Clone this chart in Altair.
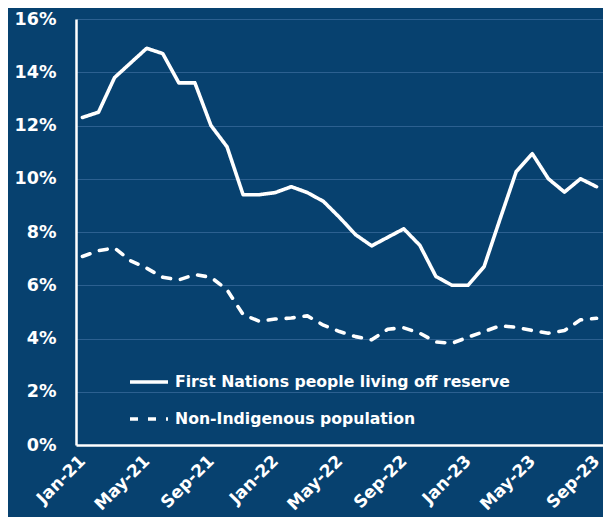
import altair as alt
import pandas as pd

months = ["Jan-21","Feb-21","Mar-21","Apr-21","May-21","Jun-21","Jul-21","Aug-21","Sep-21","Oct-21","Nov-21","Dec-21",
          "Jan-22","Feb-22","Mar-22","Apr-22","May-22","Jun-22","Jul-22","Aug-22","Sep-22","Oct-22","Nov-22","Dec-22",
          "Jan-23","Feb-23","Mar-23","Apr-23","May-23","Jun-23","Jul-23","Aug-23","Sep-23"]

first_nations = [12.3, 12.5, 13.8, 14.35, 14.9, 14.7, 13.6, 13.6, 12.0, 11.2, 9.4, 9.4,
                 9.48, 9.7, 9.48, 9.15, 8.55, 7.9, 7.48, 7.8, 8.12, 7.5, 6.33, 6.0,
                 6.0, 6.7, 8.5, 10.27, 10.94, 10.0, 9.5, 10.0, 9.7]

non_indigenous = [7.08, 7.3, 7.4, 6.92, 6.64, 6.3, 6.2, 6.4, 6.3, 5.83, 4.9, 4.65,
                  4.73, 4.77, 4.85, 4.5, 4.26, 4.07, 3.95, 4.35, 4.4, 4.2, 3.87, 3.82,
                  4.05, 4.26, 4.48, 4.42, 4.3, 4.2, 4.3, 4.7, 4.76]

series_names = ["First Nations people living off reserve", "Non-Indigenous population"]
tick_months = ["Jan-21","May-21","Sep-21","Jan-22","May-22","Sep-22","Jan-23","May-23","Sep-23"]
y_ticks = [0, 0.02, 0.04, 0.06, 0.08, 0.10, 0.12, 0.14, 0.16]

rows = []
for m, v in zip(months, first_nations):
    rows.append({"month": m, "rate": v / 100, "series": series_names[0]})
for m, v in zip(months, non_indigenous):
    rows.append({"month": m, "rate": v / 100, "series": series_names[1]})
df = pd.DataFrame(rows)

BG = "#07416F"
FONT = "DejaVu Sans"

chart = alt.Chart(df).mark_line(color="white", strokeWidth=3.6, strokeCap="round", strokeJoin="round").encode(
    x=alt.X("month:O", sort=months,
            scale=alt.Scale(type="point", padding=0.4),
            axis=alt.Axis(values=tick_months, title=None, labelAngle=-45, labelAlign="right",
                          labelBaseline="middle", labelPadding=13, tickSize=0,
                          domainColor="white", domainWidth=2.5, grid=False,
                          labelColor="white", labelFont=FONT, labelFontSize=17,
                          labelFontWeight="bold")),
    y=alt.Y("rate:Q", scale=alt.Scale(domain=[0, 0.16], nice=False),
            axis=alt.Axis(values=y_ticks, format=".0%", title=None, tickSize=0, labelPadding=20,
                          domainColor="white", domainWidth=2.5, grid=True,
                          gridColor="#2C6090", gridWidth=1,
                          labelColor="white", labelFont=FONT, labelFontSize=17.5,
                          labelFontWeight="bold")),
    strokeDash=alt.StrokeDash("series:N", sort=series_names,
                              scale=alt.Scale(domain=series_names, range=[[1, 0], [8, 10]]),
                              legend=alt.Legend(title=None, orient="none", legendX=52, legendY=342,
                                                symbolType="stroke", symbolSize=1444,
                                                symbolStrokeColor="white", symbolStrokeWidth=3.6,
                                                labelColor="white", labelFont=FONT, labelFontSize=15.7,
                                                labelFontWeight="bold", labelOffset=5, rowPadding=8,
                                                padding=0, labelLimit=500)),
    order=alt.Order("series:N"),
).properties(
    width=527, height=426,
    background=BG,
    padding={"left": 68, "top": 11, "right": 0, "bottom": 72},
    autosize=alt.AutoSizeParams(type="none"),
).configure_view(stroke=None)

chart.save("out.html", embed_options={"renderer": "svg", "actions": False})
